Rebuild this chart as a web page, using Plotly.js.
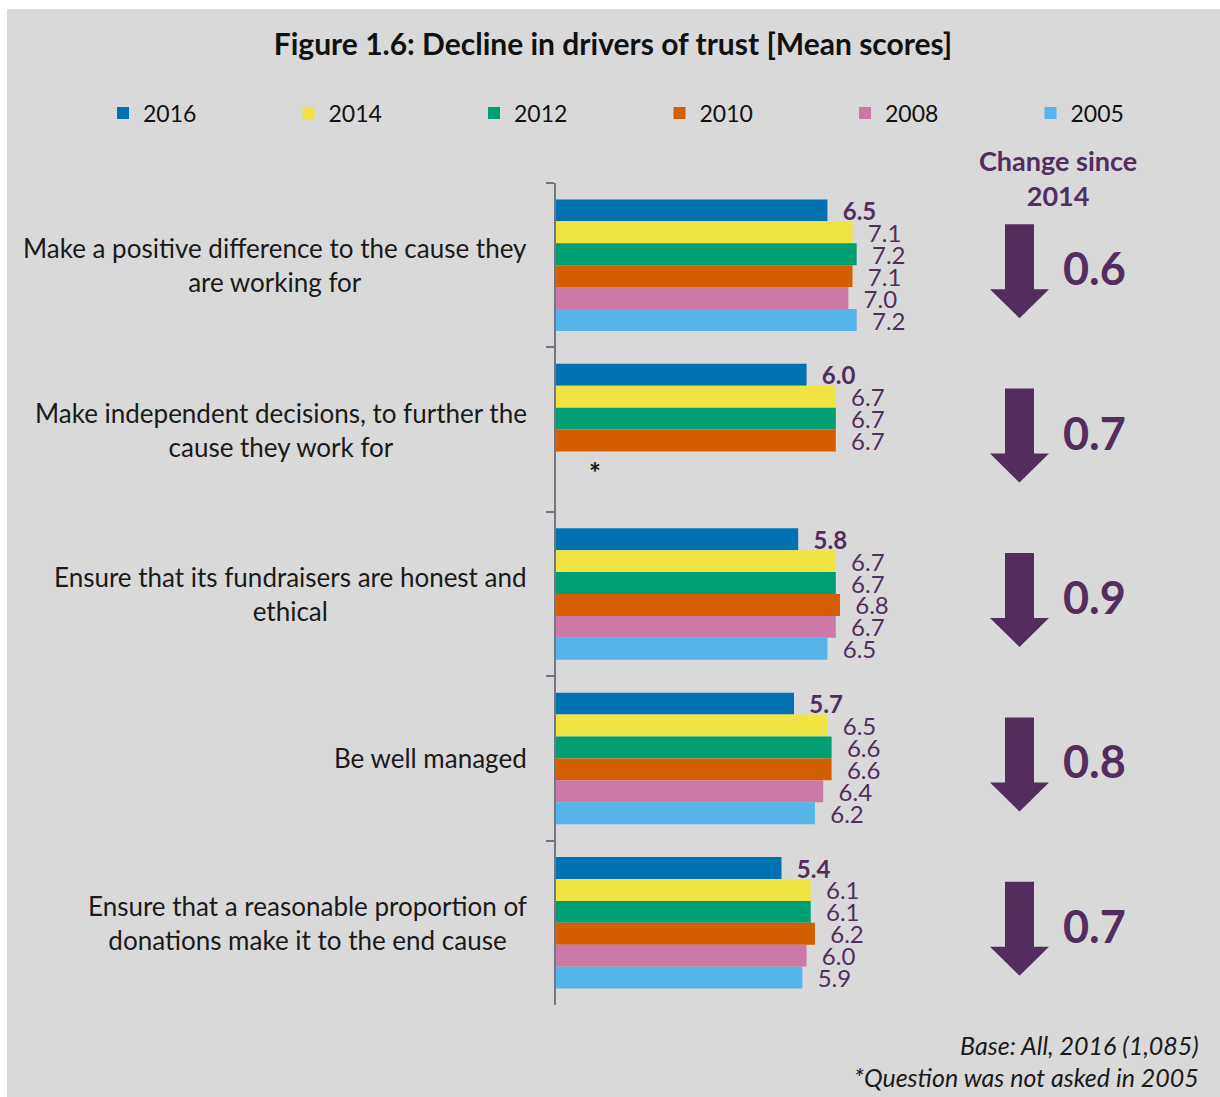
<!DOCTYPE html>
<html>
<head>
<meta charset="utf-8">
<script src="https://cdn.plot.ly/plotly-3.0.1.min.js"></script>
<style>
  html, body { margin: 0; padding: 0; background: #ffffff; }
  #chart { position: absolute; left: 7px; top: 9px; width: 1213px; height: 1088px; }
</style>
</head>
<body>
<div id="chart"></div>
<script>
// ---------------- data ----------------
const categories = [
  "Make a positive difference to the cause they<br>are working for",
  "Make independent decisions, to further the<br>cause they work for",
  "Ensure that its fundraisers are honest and<br>ethical",
  "Be well managed",
  "Ensure that a reasonable proportion of<br>donations make it to the end cause"
];
const years = ["2016", "2014", "2012", "2010", "2008", "2005"];
const v2016 = [6.5, 6.0, 5.8, 5.7, 5.4];
const v2014 = [7.1, 6.7, 6.7, 6.5, 6.1];
const v2012 = [7.2, 6.7, 6.7, 6.6, 6.1];
const v2010 = [7.1, 6.7, 6.8, 6.6, 6.2];
const v2008 = [7.0, null, 6.7, 6.4, 6.0];
const v2005 = [7.2, null, 6.5, 6.2, 5.9];
const changeSince2014 = ["0.6", "0.7", "0.9", "0.8", "0.7"];
const titleText = "Figure 1.6: Decline in drivers of trust [Mean scores]";
const changeTitle = "Change since<br>2014";
const footnotes = ["Base: All, 2016 (1,085)", "*Question was not asked in 2005"];
const notAskedMark = "*";

// ---------------- styles ----------------
const colors = ["#0072B2", "#F0E442", "#009E73", "#D55E00", "#CC79A7", "#56B4E9"];
const purple = "#522d5e";
const FONT = "Lato, 'Open Sans', sans-serif";
const seriesValues = [v2016, v2014, v2012, v2010, v2008, v2005];

// page geometry (absolute px in the 1220x1097 window)
const OX = 7, OY = 9, W = 1213, H = 1088;
const L = 556, T = 183, R = 1220, B = 1005;
const pxPerUnit = 41.76;
function px(x) { return (x - L) / (R - L); }
function py(y) { return (B - y) / (B - T); }
function catCenter(i) { return T + (B - T) / categories.length * (i + 0.5); }
function cx(x) { return (x - OX) / W; }
function cy(y) { return 1 - (y - OY) / H; }

const NB = "\u00a0\u00a0";
const traces = years.map((yr, k) => ({
  type: "bar",
  orientation: "h",
  name: yr,
  y: categories,
  x: seriesValues[k],
  marker: { color: colors[k], line: { width: 0 } },
  text: seriesValues[k].map(v => v == null ? "" : v.toFixed(1)),
  texttemplate: k === 0 ? NB + "<b>%{text}</b>" : NB + "%{text}",
  textposition: "outside",
  textfont: { family: FONT, size: 24, color: purple },
  constraintext: "none",
  cliponaxis: false,
  hoverinfo: "skip"
}));

const annotations = [];
const shapes = [];

// category labels
categories.forEach((c, i) => {
  annotations.push({
    xref: "paper", yref: "y", x: px(529), y: c,
    xanchor: "right", yanchor: "middle", align: "center",
    text: c, showarrow: false,
    font: { family: FONT, size: 26, color: "#1a1a1a" }
  });
});

// change header
annotations.push({
  xref: "paper", yref: "paper", x: px(1058), y: py(178),
  xanchor: "center", yanchor: "middle", align: "center",
  text: "<b>" + changeTitle + "</b>", showarrow: false,
  font: { family: FONT, size: 27, color: purple }
});

// arrows + change values
changeSince2014.forEach((v, i) => {
  const c = catCenter(i);
  const top = c - 41, headY = c + 24, tip = c + 53;
  const pts = [[1005, top], [1034, top], [1034, headY], [1049, headY], [1019.5, tip], [990, headY], [1005, headY]];
  const path = "M " + pts.map(p => px(p[0]) + "," + py(p[1])).join(" L ") + " Z";
  shapes.push({ type: "path", xref: "paper", yref: "paper", path: path,
    fillcolor: purple, line: { width: 0 } });
  annotations.push({
    xref: "paper", yref: "paper", x: px(1061), y: py(c + 3),
    xanchor: "left", yanchor: "middle",
    text: "<b>" + v + "</b>", showarrow: false,
    font: { family: FONT, size: 45, color: purple }
  });
});

// not-asked marker
annotations.push({
  xref: "paper", yref: "paper", x: px(595), y: py(472),
  xanchor: "center", yanchor: "middle",
  text: "<b>" + notAskedMark + "</b>", showarrow: false,
  font: { family: FONT, size: 28, color: "#1a1a1a" }
});

// footnotes
[1045, 1077].forEach((yy, j) => {
  annotations.push({
    xref: "paper", yref: "paper", x: px(1201), y: py(yy),
    xanchor: "right", yanchor: "middle",
    text: "<i>" + footnotes[j] + "</i>", showarrow: false,
    font: { family: FONT, size: 25, color: "#1a1a1a" }
  });
});

const layout = {
  width: W, height: H,
  paper_bgcolor: "#d9d9d9", plot_bgcolor: "rgba(0,0,0,0)",
  font: { family: FONT, size: 22, color: "#1a1a1a" },
  margin: { l: L - OX, r: 0, t: T - OY, b: (OY + H) - B, pad: 0 },
  title: {
    text: "<b>" + titleText + "</b>",
    xref: "container", yref: "container",
    x: cx(613), y: cy(44), xanchor: "center", yanchor: "middle",
    font: { family: FONT, size: 30, color: "#111111" }
  },
  barmode: "group", bargap: 0.2, bargroupgap: 0,
  xaxis: { visible: false, range: [0, (R - L) / pxPerUnit], fixedrange: true },
  yaxis: {
    type: "category", categoryorder: "array", categoryarray: categories,
    range: [categories.length - 0.5, -0.5],
    showticklabels: false, ticks: "outside", tickson: "boundaries",
    ticklen: 8, tickwidth: 2, tickcolor: "#6f7782",
    showline: true, linecolor: "#6f7782", linewidth: 2,
    showgrid: false, zeroline: false, fixedrange: true
  },
  showlegend: true,
  legend: {
    orientation: "h", xref: "paper", yref: "paper",
    x: px(103), y: py(113), xanchor: "left", yanchor: "middle",
    entrywidth: 140.5, entrywidthmode: "pixels",
    font: { family: FONT, size: 23, color: "#111111" },
    bgcolor: "rgba(0,0,0,0)", traceorder: "normal"
  },
  annotations: annotations,
  shapes: shapes,
  hovermode: false
};

Plotly.newPlot("chart", traces, layout, { displayModeBar: false, staticPlot: true });
</script>
</body>
</html>
